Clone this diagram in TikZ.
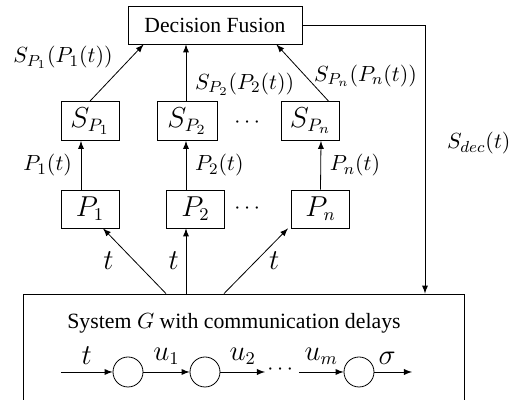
\documentclass[tikz,border=0pt]{standalone}
\usepackage{fontspec}
\setmainfont{Liberation Serif}
\usepackage{amsmath}
\usetikzlibrary{positioning}

\begin{document}
\begin{tikzpicture}[x=0.5pt,y=-0.5pt,>=latex,
 lbl/.style={font=\fontsize{11.3}{13}\selectfont},
 big/.style={font=\fontsize{13.4}{15}\selectfont},
 blk/.style={draw,minimum width=29pt,minimum height=19.5pt,inner sep=1pt,big},
 dot/.style={draw,circle,minimum size=15pt,inner sep=0pt}]
 \useasboundingbox (0,0) rectangle (516,400);
 % top and middle boxes
 \node[draw,minimum width=87pt,minimum height=19pt,font=\fontsize{10.8}{13}\selectfont] (dec) at (215,25) {Decision Fusion};
 \node[blk] (sp1) at (90,121) {$S_{P_1}$};
 \node[blk,minimum width=30pt] (sp2) at (187,121) {$S_{P_2}$};
 \node[blk] (spn) at (310.5,121) {$S_{P_n}$};
 \node[lbl] (sdots) at (249,123) {$\cdots$};
 \node[blk,minimum height=19pt] (p1) at (90,209) {$P_1$};
 \node[blk,minimum height=19pt] (p2) at (195.5,209) {$P_2$};
 \node[blk,minimum height=19pt] (pn) at (320.5,209) {$P_n$};
 \node[lbl] (pdots) at (249,209) {$\cdots$};
 % system box
 \node[draw,minimum width=220.5pt,minimum height=60pt] (sys) at (243.5,354) {};
 \node[font=\fontsize{10.9}{13}\selectfont] (systxt) at (234,323) {System $G$ with communication delays};
 \coordinate (cin) at (61,372);
 \node[dot] (c1) at (128,372) {};
 \node[dot] (c2) at (205,372) {};
 \node[lbl,inner sep=1pt] (cdots) at (282,370) {$\cdots$};
 \node[dot] (c3) at (359,372) {};
 \coordinate (cout) at (412,372);
 % chain
 \draw[->] (cin) -- node[above,big] {$t$} (c1);
 \draw[->] (c1) -- node[above,big] {$u_1$} (c2);
 \draw[->] (c2) -- node[above,big] {$u_2$} (cdots.west |- c2);
 \draw[->] (cdots.east |- c3) -- node[above,big] {$u_m$} (c3);
 \draw[->] (c3) -- node[above,big,xshift=-3pt] {$\sigma$} (cout);
 % system to P
 \draw[->] ([xshift=-38.75pt]sys.north) -- node[midway,left=7pt,big] {$t$} ([xshift=6.5pt]p1.south);
 \draw[->] ([xshift=-28.75pt]sys.north) -- node[midway,left,big] {$t$} ([xshift=-4.75pt]p2.south);
 \draw[->] ([xshift=-9.75pt]sys.north) -- node[midway,right=3pt,big] {$t$} ([xshift=-16.25pt]pn.south);
 % P to S
 \draw[->] ([xshift=-4.5pt]p1.north) -- node[left=1pt,lbl] {$P_1(t)$} ([xshift=-4.5pt]sp1.south);
 \draw[->] ([xshift=-4.75pt]p2.north) -- node[right=1pt,lbl] {$P_2(t)$} ([xshift=-0.5pt]sp2.south);
 \draw[->] (pn.north) -- node[right=1pt,lbl] {$P_n(t)$} ([xshift=5.25pt]spn.south);
 % S to fusion
 \draw[->] (sp1.north) -- node[above left=-2pt,lbl] {$S_{P_1}(P_1(t))$} ([xshift=8pt]dec.south west);
 \draw[->] ([xshift=-0.5pt]sp2.north) -- node[pos=0.3,right=1pt,lbl] {$S_{P_2}(P_2(t))$} ([xshift=-0.5pt]sp2.north |- dec.south);
 \draw[->] ([xshift=9pt]spn.north) -- node[pos=0.45,right=1pt,lbl] {$S_{P_n}(P_n(t))$} ([xshift=-13pt]dec.south east);
 % feedback
 \draw[->] (dec.east) -| node[pos=0.72,right=7.5pt,lbl] {$S_{dec}(t)$} ([xshift=90.75pt]sys.north);
\end{tikzpicture}
\end{document}
